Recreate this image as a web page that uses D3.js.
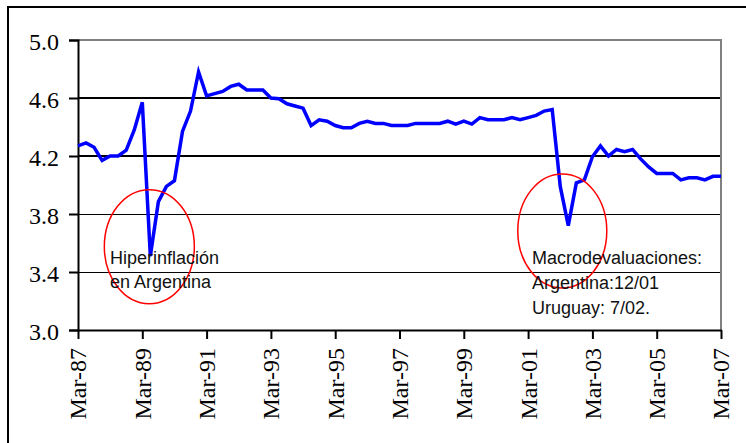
<!DOCTYPE html>
<html>
<head>
<meta charset="utf-8">
<script src="https://cdn.jsdelivr.net/npm/d3@7"></script>
<style>
html,body{margin:0;padding:0;background:#fff;}
svg{display:block;}
</style>
</head>
<body>
<svg id="chart" width="746" height="443"></svg>
<script>
const quarters = [
"Mar-87","Jun-87","Sep-87","Dec-87","Mar-88","Jun-88","Sep-88","Dec-88",
"Mar-89","Jun-89","Sep-89","Dec-89","Mar-90","Jun-90","Sep-90","Dec-90",
"Mar-91","Jun-91","Sep-91","Dec-91","Mar-92","Jun-92","Sep-92","Dec-92",
"Mar-93","Jun-93","Sep-93","Dec-93","Mar-94","Jun-94","Sep-94","Dec-94",
"Mar-95","Jun-95","Sep-95","Dec-95","Mar-96","Jun-96","Sep-96","Dec-96",
"Mar-97","Jun-97","Sep-97","Dec-97","Mar-98","Jun-98","Sep-98","Dec-98",
"Mar-99","Jun-99","Sep-99","Dec-99","Mar-00","Jun-00","Sep-00","Dec-00",
"Mar-01","Jun-01","Sep-01","Dec-01","Mar-02","Jun-02","Sep-02","Dec-02",
"Mar-03","Jun-03","Sep-03","Dec-03","Mar-04","Jun-04","Sep-04","Dec-04",
"Mar-05","Jun-05","Sep-05","Dec-05","Mar-06","Jun-06","Sep-06","Dec-06",
"Mar-07"
];
const values = [
4.27,4.29,4.26,4.17,4.20,4.20,4.24,4.38,
4.57,3.51,3.885,3.99,4.03,4.37,4.51,4.78,
4.615,4.63,4.645,4.68,4.695,4.655,4.655,4.655,
4.60,4.595,4.56,4.545,4.53,4.41,4.45,4.44,
4.41,4.395,4.395,4.425,4.44,4.425,4.425,4.41,
4.41,4.41,4.425,4.425,4.425,4.425,4.44,4.42,
4.44,4.42,4.465,4.45,4.45,4.45,4.465,4.45,
4.465,4.48,4.51,4.52,3.99,3.72,4.015,4.035,
4.195,4.27,4.20,4.245,4.23,4.245,4.18,4.125,
4.08,4.08,4.08,4.035,4.05,4.05,4.035,4.06,
4.06
];
const xTickLabels = ["Mar-87","Mar-89","Mar-91","Mar-93","Mar-95","Mar-97","Mar-99","Mar-01","Mar-03","Mar-05","Mar-07"];
const yTicks = [3.0,3.4,3.8,4.2,4.6,5.0];
const annotation1 = ["Hiperinflación","en Argentina"];
const annotation2 = ["Macrodevaluaciones:","Argentina:12/01","Uruguay: 7/02."];
const ellipse1 = {cat:"Jun-89", val:3.575};
const ellipse2 = {cat:"Jun-02", val:3.683};

const svg = d3.select("#chart");
const L=78,R=721,T=40,B=330;

const x = d3.scalePoint().domain(quarters).range([L,R]);
const y = d3.scaleLinear().domain([3,5]).range([B,T]);

// outer frame
svg.append("rect").attr("x",8).attr("y",7).attr("width",800).attr("height",500)
  .attr("fill","none").attr("stroke","#000").attr("stroke-width",2);

// gridlines
const g = svg.append("g");
yTicks.filter(v=>v>3).forEach(v=>{
  const thick = (v===4.6||v===4.2||v===5.0);
  g.append("line").attr("x1",L).attr("x2",R)
    .attr("y1",thick?y(v):y(v)+0.5).attr("y2",thick?y(v):y(v)+0.5)
    .attr("stroke", v===5.0 ? "#808080" : "#000")
    .attr("stroke-width", thick?2:1)
    .attr("shape-rendering","crispEdges");
});
// right border of plot area
g.append("line").attr("x1",R).attr("x2",R).attr("y1",T-1).attr("y2",B)
  .attr("stroke","#808080").attr("stroke-width",2);

// y axis
const yAxis = d3.axisLeft(y).tickValues(yTicks).tickSize(9).tickPadding(10).tickFormat(d3.format(".1f"));
const ya = svg.append("g").attr("transform",`translate(${L},0)`).call(yAxis);
ya.select(".domain").attr("stroke","#000").attr("stroke-width",2);
ya.selectAll(".tick line").attr("stroke","#000").attr("stroke-width",2);
ya.selectAll(".tick text").attr("font-family","'Liberation Serif', serif").attr("font-size",24)
  .attr("fill","#000").attr("dy","0.4em");

// x axis
const xAxis = d3.axisBottom(x).tickValues(xTickLabels).tickSize(9).tickSizeOuter(0);
const xa = svg.append("g").attr("transform",`translate(0,${B})`).call(xAxis);
xa.select(".domain").attr("stroke","#000").attr("stroke-width",2);
xa.selectAll(".tick line").attr("stroke","#000").attr("stroke-width",2);
xa.selectAll(".tick text")
  .attr("font-family","'Liberation Serif', serif").attr("font-size",24).attr("fill","#000")
  .attr("text-anchor","end").attr("transform","rotate(-90)")
  .attr("x",-18).attr("y",0).attr("dy","0.33em");

// line
const line = d3.line().x((d,i)=>x(quarters[i])).y(d=>y(d));
svg.append("path").datum(values).attr("d",line)
  .attr("fill","none").attr("stroke","#0000FF").attr("stroke-width",3.5)
  .attr("stroke-linejoin","miter");

// ellipses
svg.append("ellipse").attr("cx",x(ellipse1.cat)-1).attr("cy",y(ellipse1.val)).attr("rx",45).attr("ry",57)
  .attr("fill","none").attr("stroke","#FF0000").attr("stroke-width",1.5);
svg.append("ellipse").attr("cx",x(ellipse2.cat)-6).attr("cy",y(ellipse2.val)).attr("rx",44.5).attr("ry",57)
  .attr("fill","none").attr("stroke","#FF0000").attr("stroke-width",1.5);

// annotations
const a1 = svg.append("text").attr("font-family","'Liberation Sans', Arial, sans-serif").attr("font-size",18).attr("fill","#111");
annotation1.forEach((t,i)=>a1.append("tspan").attr("x",110).attr("y",264+i*24).text(t));
const a2 = svg.append("text").attr("font-family","'Liberation Sans', Arial, sans-serif").attr("font-size",18).attr("fill","#111");
annotation2.forEach((t,i)=>a2.append("tspan").attr("x",532).attr("y",264+i*24.8).text(t));
</script>
</body>
</html>
